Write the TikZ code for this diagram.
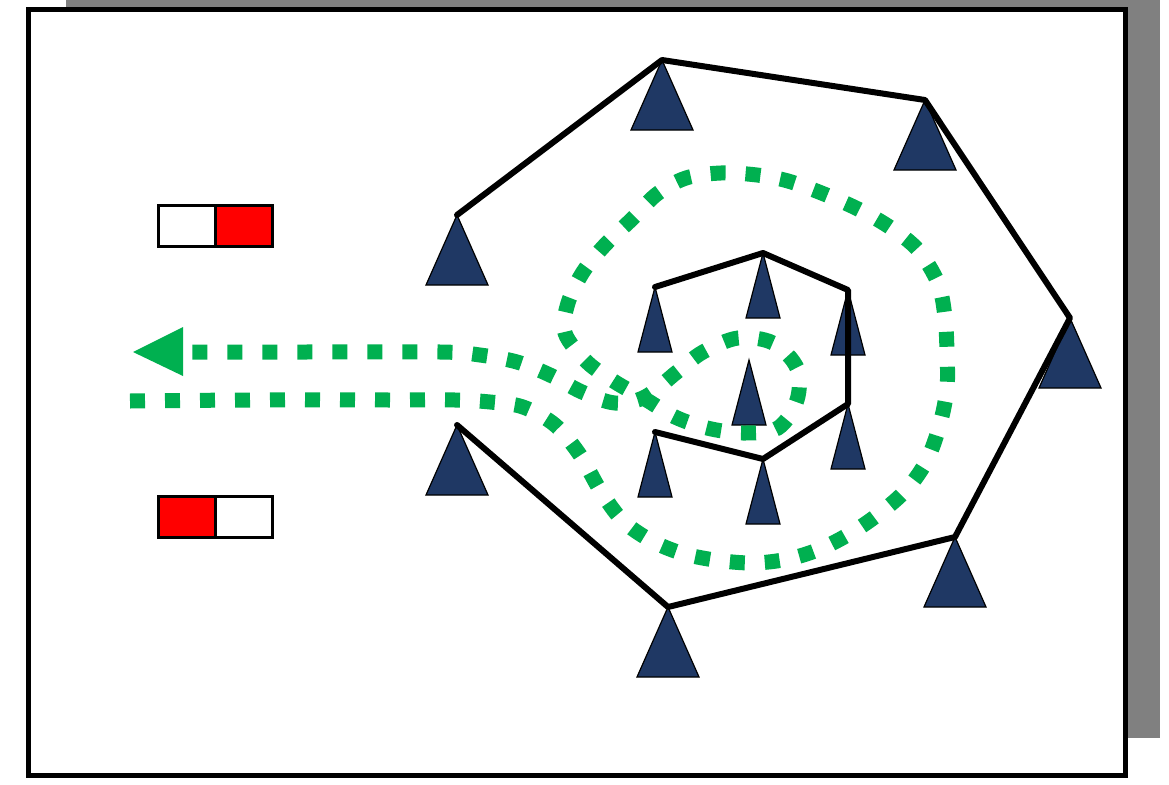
\documentclass[tikz,border=0pt]{standalone}
\usetikzlibrary{calc}
\definecolor{navy}{HTML}{1F3864}
\definecolor{grn}{HTML}{00B050}
\definecolor{shadowgray}{HTML}{808080}
\definecolor{flagred}{HTML}{FF0000}
\begin{document}
\begin{tikzpicture}[x=1pt,y=-1pt,
  trifill/.style={fill=navy,draw=black,line width=1.2pt,line join=miter},
  wire/.style={draw=black,line width=6pt,line join=round,line cap=round},
  greenpath/.style={draw=grn,line width=15pt,line cap=butt,dash pattern=on 15pt off 20pt},
  flagbox/.style={draw=black,line width=3pt},
  frame/.style={fill=white,draw=black,line width=5pt},
  shadowbox/.style={fill=shadowgray,draw=none}]
\useasboundingbox (0,0) rectangle (1169,784);
% shadow and frame
\path[shadowbox] (66,0) rectangle (1160,738);
\path[frame] (28,10) rectangle (1125,775);
% flags
\path[flagbox,fill=white] (158,205) rectangle (215,246);
\path[flagbox,fill=flagred] (215,205) rectangle (272,246);
\path[flagbox,fill=flagred] (158,496) rectangle (215,537);
\path[flagbox,fill=white] (215,496) rectangle (272,537);
% outer triangles
\foreach \n/\x/\y in {T1/662/60,T2/925/100,T3/457/215,T4/1070/318,T5/457/425,T6/955/537,T7/668/607}{
  \coordinate (\n) at (\x,\y);
  \path[trifill] (\n) -- ++(-31,70) -- ++(62,0) -- cycle;
}
% inner triangles
\foreach \n/\x/\y in {S1/655/287,S2/763/253,S3/848/290,S4/749/360,S5/655/432,S6/763/459,S7/848/404}{
  \coordinate (\n) at (\x,\y);
  \path[trifill] (\n) -- ++(-17,65) -- ++(34,0) -- cycle;
}
% connections
\draw[wire] (T3) -- (T1) -- (T2) -- (T4) -- (T6) -- (T7) -- (T5);
\draw[wire] (S1) -- (S2) -- (S3) -- (S7) -- (S6) -- (S5);
% green route
\coordinate (arrowtip) at (133,352);
\draw[greenpath] plot[smooth, tension=0.55] coordinates {(130,401) (250,400) (400,400) (455,400) (490,402) (523,407) (555,425) (580,455) (600,490) (622,520) (650,540) (681,553) (715,560) (753,563) (788,559) (820,549) (851,533) (880,513) (907,489) (927,460) (940,424) (947,388) (947,352) (945,317) (938,283) (918,250) (891,228) (860,210) (824,194) (788,181) (757,175) (721,173) (686,178) (657,194) (632,219) (605,245) (583,272) (568,303) (565,333) (587,362) (615,382) (645,399) (675,417) (707,428) (743,433) (778,428) (797,400) (797,368) (773,343) (738,338) (703,352) (677,372) (645,397) (615,403) (582,392) (550,375) (517,362) (480,355) (440,352) (300,352) (185,352)};
\fill[grn] (arrowtip) -- ++(50,-25) -- ++(0,49) -- cycle;
\end{tikzpicture}
\end{document}
